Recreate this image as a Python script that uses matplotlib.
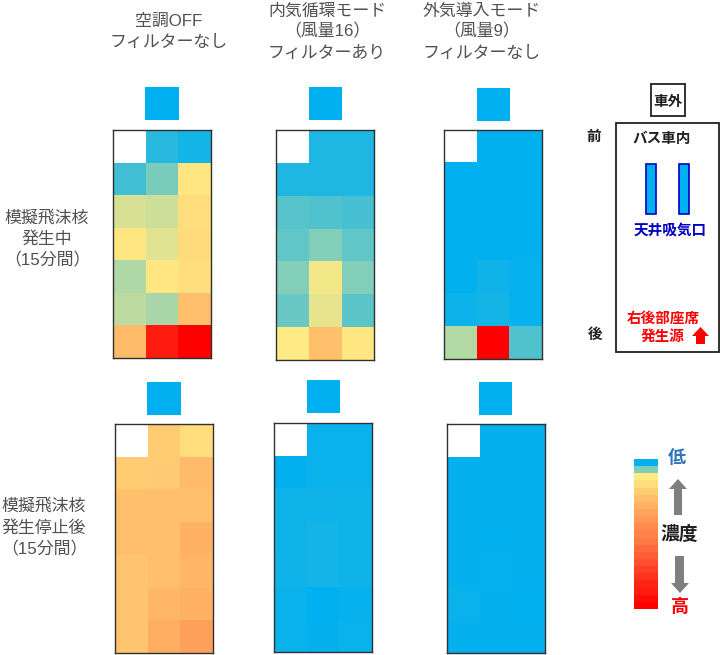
#!/usr/bin/env python3
"""バス車内 濃度ヒートマップ"""
import numpy as np
import matplotlib
matplotlib.use('Agg')
import matplotlib.pyplot as plt
from matplotlib.colors import LinearSegmentedColormap
from matplotlib.patches import Rectangle, Polygon

plt.rcParams['font.family'] = ['Liberation Sans', 'Noto Sans CJK JP', 'DejaVu Sans']

W, H = 720, 655
nan = np.nan

# 0 = 低, 50 = 中間, 100 = 高 (色から読み取り)
during_off = [[nan, 8, 4], [12.5, 24, 51], [42, 40, 53], [51, 44, 53.5],
              [34, 51, 52.5], [37, 33, 59], [60, 94, 100]]
during_recirc = [[nan, 6, 6], [6, 6, 6], [17, 16, 14], [19, 26, 19],
                 [26, 48, 26], [21, 45, 18], [50, 59, 51]]
during_fresh = [[nan, 0, 0], [0, 0, 0], [0, 0, 0], [0, 0.5, 0.5],
                [0.5, 3.5, 1.5], [2.5, 4, 1.5], [35, 100, 16]]
after_off = [[nan, 56.5, 53], [56.5, 57, 60], [59, 59, 59], [59, 59, 62],
             [58, 59, 61], [58, 61, 62], [58, 63, 66]]
after_recirc = [[nan, 2, 2], [0.5, 2, 2], [3, 3.5, 3], [3, 4, 3],
                [3.5, 4, 3], [2, 0, 1.5], [2, 1, 2]]
after_fresh = [[nan, 1, 1], [1, 1, 1], [1, 1, 1], [1, 0.5, 1],
               [1, 1.5, 1], [2, 1, 0], [1, 1, 1]]
outside_value = 0

scale_values = [0, 25, 50, 53, 56, 59, 62, 65, 67, 70, 72, 74, 77, 80, 83, 86, 89, 92, 94, 97, 100]

col_titles = [["空調OFF", "フィルターなし"],
              ["内気循環モード", "（風量16）", "フィルターあり"],
              ["外気導入モード", "（風量9）", "フィルターなし"]]
row_titles = [["模擬飛沫核", "発生中", "（15分間）"],
              ["模擬飛沫核", "発生停止後", "（15分間）"]]

# Excel の3色スケール
cmap = LinearSegmentedColormap.from_list("conc", ["#00B0F0", "#FFEB84", "#FF0000"])
cmap.set_bad("white")


def px_axes(fig, left, top, right, bottom):
    return fig.add_axes([left / W, 1 - bottom / H, (right - left) / W, (bottom - top) / H])


def draw_heat(fig, values, box, frame=True):
    ax = px_axes(fig, *box)
    ax.imshow(np.array(values, dtype=float), cmap=cmap, vmin=0, vmax=100,
              aspect="auto", interpolation="nearest")
    ax.set_xticks([])
    ax.set_yticks([])
    for s in ax.spines.values():
        s.set_visible(frame)
        s.set_linewidth(1.0)
        s.set_color("#303030")
    return ax


fig = plt.figure(figsize=(W / 100, H / 100), dpi=100, facecolor="white")

# 本体パネル
panels = [(during_off, (113, 130, 211, 358), (145, 87, 179, 120)),
          (during_recirc, (276, 130, 374, 360), (309, 87, 342, 120)),
          (during_fresh, (444, 130, 542, 359), (477, 88, 510, 121)),
          (after_off, (115, 424, 213, 653), (147, 382, 181, 415)),
          (after_recirc, (274, 423, 372, 652), (307, 380, 340, 413)),
          (after_fresh, (447, 424, 545, 653), (479, 382, 512, 415))]
for vals, box, outside_box in panels:
    draw_heat(fig, vals, box)
    draw_heat(fig, [[outside_value]], outside_box, frame=False)

# カラースケール
draw_heat(fig, [[v] for v in scale_values], (634, 459, 658, 609), frame=False)

# 文字と図形はピクセル座標のオーバーレイに
ov = fig.add_axes([0, 0, 1, 1], zorder=5)
ov.set_xlim(0, W)
ov.set_ylim(H, 0)
ov.axis("off")

TXT = "#505050"


def label(x, y, s, size=12.2, color=TXT, weight="normal"):
    ov.text(x, y, s, ha="center", va="center", fontsize=size, color=color, fontweight=weight)


for x, ys, lines in [(169, (21, 42), col_titles[0]),
                     (327, (11, 31, 53), col_titles[1]),
                     (482, (11, 31, 53), col_titles[2])]:
    for y, s in zip(ys, lines):
        label(x, y, s)
for x, ys, lines in [(47, (218, 239, 260), row_titles[0]), (44, (506, 528, 549), row_titles[1])]:
    for y, s in zip(ys, lines):
        label(x, y, s)

# 車両の模式図
ov.add_patch(Rectangle((651, 84), 34, 32, fc="white", ec="#202020", lw=1.3))
ov.add_patch(Rectangle((616, 123), 103, 229, fc="white", ec="#202020", lw=1.3))
for x in (646, 679):
    ov.add_patch(Rectangle((x, 164), 10, 50, fc="#00B0F0", ec="#0000C0", lw=1.2))
label(668, 102, "車外", size=10.5, color="#202020", weight="bold")
label(594, 137, "前", size=10.5, color="#202020", weight="bold")
label(595, 335, "後", size=10.5, color="#202020", weight="bold")
label(662, 139, "バス車内", size=10.5, color="#202020", weight="bold")
label(670, 231, "天井吸気口", size=10.5, color="#0000C0", weight="bold")
label(663, 319, "右後部座席", size=10.5, color="#FF0000", weight="bold")
label(663, 337, "発生源", size=10.5, color="#FF0000", weight="bold")
ov.add_patch(Polygon([(700.5, 327), (709, 336), (705, 336), (705, 344), (696, 344),
                      (696, 336), (692, 336)], fc="#FF0000", ec="none"))

# 凡例の矢印と文字
ov.add_patch(Polygon([(678, 479), (687, 489), (682, 489), (682, 515), (674, 515),
                      (674, 489), (669, 489)], fc="#7F7F7F", ec="none"))
ov.add_patch(Polygon([(680, 593), (689, 583), (684, 583), (684, 556), (675, 556),
                      (675, 583), (671, 583)], fc="#7F7F7F", ec="none"))
label(677, 458, "低", size=13, color="#2E75B6", weight="bold")
label(679, 535, "濃度", size=13.5, color="#202020", weight="bold")
label(680, 607, "高", size=13, color="#FF0000", weight="bold")

fig.savefig("out.png", dpi=100, facecolor="white")
plt.close(fig)
